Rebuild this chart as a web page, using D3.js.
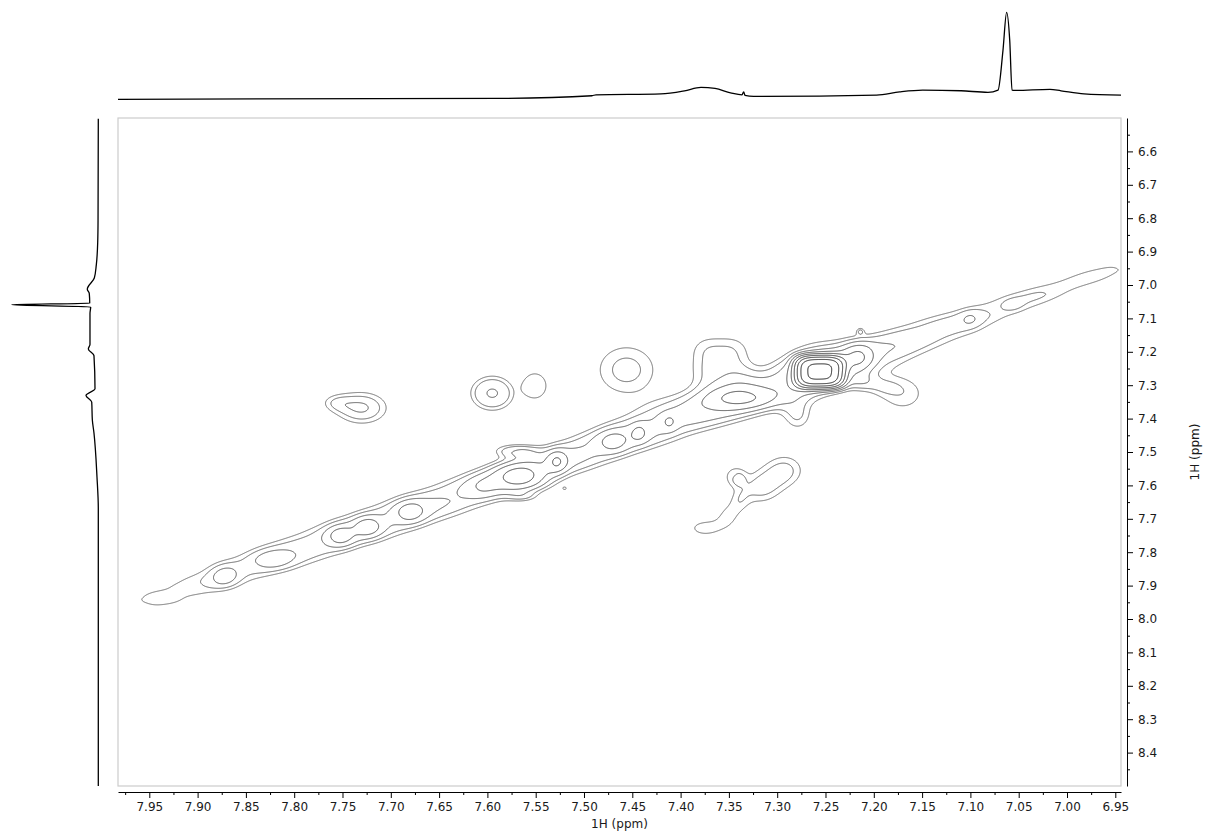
<!DOCTYPE html>
<html><head><meta charset="utf-8">
<script src="https://cdn.jsdelivr.net/npm/d3@7"></script>
<style>
body{margin:0;background:#fff;}
svg{display:block;font-family:"DejaVu Sans",Verdana,sans-serif;}
</style></head><body>
<svg id="chart" width="1207" height="834"></svg>
<script>
// ---------------- data ----------------
const xTicks = [7.95,7.90,7.85,7.80,7.75,7.70,7.65,7.60,7.55,7.50,7.45,7.40,7.35,7.30,7.25,7.20,7.15,7.10,7.05,7.00,6.95];
const yTicks = [6.6,6.7,6.8,6.9,7.0,7.1,7.2,7.3,7.4,7.5,7.6,7.7,7.8,7.9,8.0,8.1,8.2,8.3,8.4];
const xDomain = [7.9824, 6.9441];   // F2 (1H, ppm), left -> right
const yDomain = [6.5, 8.5];         // F1 (1H, ppm), top -> bottom
const axisTitle = "1H (ppm)";

// contour levels (relative intensity)
const contourLevels = [1, 1.4, 1.96, 2.74, 3.84, 5.38, 7.53, 10.5, 14.8, 20.7];

// 1D projection on top: ppm and relative intensity (%)
const topPpm = [7.9824,7.5869,7.4917,7.4876,7.4203,7.3960,7.3789,7.3644,7.3483,7.3364,7.3347,7.3333,7.3244,7.1971,7.1732,7.1494,7.1097,7.0818,7.0714,7.0663,7.0625,7.0593,7.0569,7.0538,7.0176,7.0062,6.9824,6.9441];
const topInt = [0,1.1,4.1,5.2,6.3,9.8,13.7,12.5,7.5,5.2,8.6,4.5,3.4,4.9,8.6,10.6,9.8,8.0,10.6,56,100,68,10.6,10.2,11.5,9.8,6.3,4.9];

// 1D projection on the left: ppm and relative intensity (%)
const leftPpm = [6.5024,6.8072,6.8734,6.9398,6.9790,7.0126,7.0257,7.0545,7.0590,7.0655,7.0853,7.1781,7.1913,7.2114,7.3108,7.3305,7.3503,7.4033,7.4431,7.5757,7.6677,8.50];
const leftInt = [0,0.3,0.7,2.3,4.6,12.7,10.4,9.9,100,8.8,9.6,9.6,11.5,5.0,3.8,14.2,7.6,6.9,5.0,1.5,0,0];

// ridge components elongated along the diagonal:
// [F2 ppm, F1 ppm, amplitude, sigma along diagonal, sigma across (F1-F2), shape]
const diagonalRidge = [
  [7.945,7.945,1.00,0.014,0.030,2.5],
  [7.905,7.905,1.15,0.025,0.040,2.5],
  [7.840,7.840,1.45,0.033,0.045,2.5],
  [7.770,7.770,1.60,0.035,0.048,2.5],
  [7.700,7.700,1.70,0.035,0.050,2.5],
  [7.630,7.630,1.70,0.035,0.050,2.5],
  [7.560,7.560,1.90,0.035,0.048,2.5],
  [7.490,7.490,1.80,0.035,0.050,2.5],
  [7.420,7.420,1.80,0.035,0.052,2.5],
  [7.350,7.350,2.00,0.035,0.058,2.5],
  [7.280,7.280,1.60,0.035,0.055,2.5],
  [7.210,7.210,1.65,0.035,0.050,2.5],
  [7.140,7.140,1.50,0.035,0.046,2.5],
  [7.070,7.070,1.15,0.035,0.036,2.5],
  [7.010,7.010,1.05,0.030,0.028,2.5],
  [6.960,6.960,1.02,0.022,0.022,2.5]
];

// peaks: [F2 ppm, F1 ppm, amplitude, sigma F2, sigma F1, radial exponent, squareness]
const peaks = [
  // on the diagonal
  [7.872,7.872,1.1,0.011,0.025,2,2],
  [7.822,7.822,0.8,0.015,0.022,2,2],
  [7.752,7.752,1.5,0.010,0.022,2,2],
  [7.724,7.724,1.5,0.010,0.022,2,2],
  [7.680,7.680,1.4,0.011,0.024,2,2],
  [7.605,7.605,0.7,0.012,0.025,2,2],
  [7.567,7.567,2.3,0.018,0.026,2,2],
  [7.528,7.528,1.8,0.007,0.022,2,2],
  [7.560,7.600,0.7,0.020,0.020,2,2],
  [7.470,7.470,1.1,0.011,0.024,2,2],
  [7.443,7.443,0.9,0.006,0.020,2,2],
  [7.412,7.412,0.8,0.006,0.018,2,2],
  [7.340,7.340,2.0,0.025,0.024,2,2],
  [7.256,7.260,13.0,0.019,0.036,3.5,3.5],
  [7.258,7.245,1.4,0.028,0.065,2,2],
  [7.216,7.215,2.0,0.011,0.028,2,2],
  [7.100,7.100,0.5,0.008,0.020,2,2],
  [7.056,7.060,0.35,0.008,0.015,2,2],
  // off the diagonal
  [7.214,7.138,1.05,0.003,0.008,2,2],
  [7.170,7.325,1.3,0.022,0.050,2,2],
  [7.212,7.290,1.0,0.012,0.020,2,2],
  [7.190,7.305,0.6,0.012,0.020,2,2],
  [7.279,7.395,1.3,0.012,0.035,2,2],
  [7.730,7.368,2.05,0.021,0.038,2,2],
  [7.758,7.352,0.85,0.012,0.020,2,2],
  [7.595,7.324,1.98,0.0200,0.046,3,2],
  [7.551,7.302,1.3,0.0134,0.042,4,2],
  [7.456,7.254,1.6,0.028,0.068,2,2],
  [7.359,7.226,1.6,0.027,0.066,3,3],
  [7.572,7.495,1.4,0.018,0.016,2.5,2],
  [7.563,7.635,0.9,0.012,0.012,2,2],
  [7.520,7.609,1.01,0.002,0.004,2,2],
  [7.292,7.554,1.5,0.017,0.040,2,2],
  [7.318,7.608,1.5,0.017,0.040,2,2],
  [7.344,7.572,1.05,0.010,0.027,3,2],
  [7.339,7.644,0.8,0.008,0.030,2,2],
  [7.351,7.689,1.0,0.010,0.030,2,2],
  [7.375,7.728,1.2,0.017,0.025,2,2]
];

// ---------------- layout ----------------
const svg = d3.select("#chart");
const frame = {left:118, right:1121, top:118, bottom:786};
const x = d3.scaleLinear().domain(xDomain).range([frame.left, frame.right]);
const y = d3.scaleLinear().domain(yDomain).range([frame.top, frame.bottom]);
const topScale = d3.scaleLinear().domain([0,100]).range([99.3, 12.3]);
const leftScale = d3.scaleLinear().domain([0,100]).range([98.3, 11.7]);

// ---------------- contour field ----------------
const nx = 1003, ny = 668;
const gx = d3.scaleLinear().domain([0,nx]).range(xDomain);
const gy = d3.scaleLinear().domain([0,ny]).range(yDomain);
const values = new Float64Array(nx*ny);
const R = 5;
function accumulate(cx, cy, ex, ey, fn){
  let i0 = Math.floor(gx.invert(cx+ex)), i1 = Math.ceil(gx.invert(cx-ex));
  let j0 = Math.floor(gy.invert(cy-ey)), j1 = Math.ceil(gy.invert(cy+ey));
  i0 = Math.max(0,i0); i1 = Math.min(nx-1,i1); j0 = Math.max(0,j0); j1 = Math.min(ny-1,j1);
  for (let j=j0;j<=j1;j++){
    const Y = gy(j+0.5);
    for (let i=i0;i<=i1;i++){
      values[j*nx+i] += fn(gx(i+0.5)-cx, Y-cy);
    }
  }
}
diagonalRidge.forEach(([cx,cy,a,sm,sd,p])=>{
  const e = R*(sm+sd);
  accumulate(cx,cy,e,e,(dx,dy)=>{
    const u = Math.abs((dx+dy)/2/sm), v = Math.abs((dy-dx)/sd);
    return a*Math.exp(-0.5*(Math.pow(u,p)+Math.pow(v,p)));
  });
});
peaks.forEach(([cx,cy,a,sx,sy,p,q])=>{
  accumulate(cx,cy,R*sx,R*sy,(dx,dy)=>{
    const u = Math.abs(dx/sx), v = Math.abs(dy/sy);
    const r = Math.pow(Math.pow(u,q)+Math.pow(v,q), 1/q);
    return a*Math.exp(-0.5*Math.pow(r,p));
  });
});

const contours = d3.contours().size([nx,ny]).thresholds(contourLevels)(values);
const proj = d3.geoTransform({point:function(px,py){ this.stream.point(x(gx(px)), y(gy(py))); }});
const path = d3.geoPath(proj);
const levelColor = d3.scaleLinear().domain([0, contourLevels.length-1]).range(["#707070","#111"]);

svg.append("clipPath").attr("id","clip").append("rect")
  .attr("x",frame.left).attr("y",frame.top)
  .attr("width",frame.right-frame.left).attr("height",frame.bottom-frame.top);

svg.append("g").attr("clip-path","url(#clip)")
  .selectAll("path").data(contours).join("path")
  .attr("d",path).attr("fill","none")
  .attr("stroke",d=>levelColor(contourLevels.indexOf(d.value)))
  .attr("stroke-width",1);

// frame
svg.append("rect").attr("x",frame.left).attr("y",frame.top)
  .attr("width",frame.right-frame.left).attr("height",frame.bottom-frame.top)
  .attr("fill","none").attr("stroke","#cccccc").attr("stroke-width",1.2);

// ---------------- projections ----------------
const topData = topPpm.map((p,i)=>[p,topInt[i]]);
svg.append("path").datum(topData)
  .attr("d", d3.line().x(d=>x(d[0])).y(d=>topScale(d[1])).curve(d3.curveMonotoneX))
  .attr("fill","none").attr("stroke","#000").attr("stroke-width",1.3);
const leftData = leftPpm.map((p,i)=>[p,leftInt[i]]);
svg.append("path").datum(leftData)
  .attr("d", d3.line().x(d=>leftScale(d[1])).y(d=>y(d[0])).curve(d3.curveMonotoneY))
  .attr("fill","none").attr("stroke","#000").attr("stroke-width",1.3);

// ---------------- axes ----------------
const xMinor = xTicks.map(v=>+(v+0.025).toFixed(3)).filter(v=>v<=xDomain[0]);
const yMinor = yTicks.map(v=>+(v-0.05).toFixed(2)).concat([8.45]).filter(v=>v>=yDomain[0]&&v<=yDomain[1]);

const gxAxis = svg.append("g").attr("transform","translate(0,792)");
gxAxis.call(d3.axisBottom(x).tickValues(xTicks).tickFormat(d3.format(".2f")).tickSize(6).tickSizeOuter(0).tickPadding(4));
gxAxis.append("g").call(d3.axisBottom(x).tickValues(xMinor).tickFormat("").tickSize(3).tickSizeOuter(0))
  .select(".domain").remove();
const gyAxis = svg.append("g").attr("transform","translate(1127,0)");
gyAxis.call(d3.axisRight(y).tickValues(yTicks).tickFormat(d3.format(".1f")).tickSize(6).tickSizeOuter(0).tickPadding(5));
gyAxis.append("g").call(d3.axisRight(y).tickValues(yMinor).tickFormat("").tickSize(3).tickSizeOuter(0))
  .select(".domain").remove();
svg.selectAll(".tick text").attr("font-size",12).attr("font-family","DejaVu Sans, Verdana, sans-serif").attr("fill","#1a1a1a");

svg.append("text").attr("x",(frame.left+frame.right)/2).attr("y",828)
  .attr("text-anchor","middle").attr("font-size",12).attr("fill","#1a1a1a").text(axisTitle);
svg.append("text").attr("transform","translate(1199,452) rotate(-90)")
  .attr("text-anchor","middle").attr("font-size",12).attr("fill","#1a1a1a").text(axisTitle);
</script>
</body></html>
